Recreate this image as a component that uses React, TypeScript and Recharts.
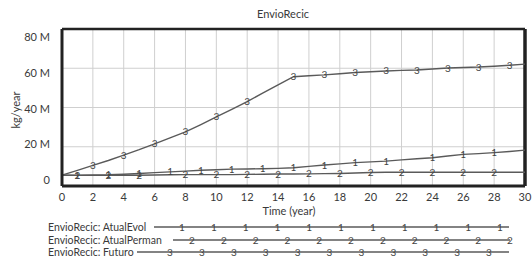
import React from 'react';
import { LineChart, Line, XAxis, YAxis, CartesianGrid, ReferenceLine } from 'recharts';

const years = [0,1,2,3,4,5,6,7,8,9,10,11,12,13,14,15,16,17,18,19,20,21,22,23,24,25,26,27,28,29,30];
const atualEvol = [5.5,5.5,5.6,5.7,6.0,6.4,6.8,7.2,7.6,8.0,8.3,8.6,8.7,8.8,9.0,9.3,10.0,10.7,11.3,11.9,12.3,12.7,13.3,13.9,14.4,15.3,16.1,16.5,17.0,17.6,18.3];
const atualPerman = [5.5,5.4,5.4,5.4,5.5,5.5,5.6,5.7,5.8,5.8,5.8,5.8,5.9,6.0,6.1,6.1,6.2,6.3,6.4,6.6,6.9,7.0,7.0,7.0,7.0,7.0,7.0,7.0,7.0,7.0,7.0];
const futuro = [5.5,8.0,10.5,13.0,15.7,18.5,21.5,24.5,27.6,31.3,35.2,39.0,43.0,47.3,51.5,55.7,56.2,56.6,57.2,57.8,58.2,58.6,58.9,59.1,59.6,60.1,60.4,60.6,61.0,61.5,62.1];

const markersEvol = [1,3,5,7,9,11,13,15,17,19,21,24,26,28];
const markersPerman = [1,3,5,8,10,12,14,16,18,20,22,24,26,28];
const markersFuturo = [2,4,6,8,10,12,15,17,19,21,23,25,27,29];

const xTicks = [0,2,4,6,8,10,12,14,16,18,20,22,24,26,28,30];
const yTicks = [0,20e6,40e6,60e6,80e6];

const seriesNames = ['EnvioRecic: AtualEvol', 'EnvioRecic: AtualPerman', 'EnvioRecic: Futuro'];
const seriesLabels = ['1', '2', '3'];

const data = years.map((t, i) => ({
  t,
  s1: atualEvol[i] * 1e6,
  s2: atualPerman[i] * 1e6,
  s3: futuro[i] * 1e6,
}));

const FONT = 'Lato, "DejaVu Sans", sans-serif';
const LINE = '#5a5a5a';
const TXT = '#3a3a3a';

const makeDot = (marks: number[], label: string) => (props: any) => {
  const { cx, cy, payload, index } = props;
  if (!marks.includes(payload.t)) return <g key={`d${label}${index}`} />;
  return (
    <text key={`d${label}${index}`} x={cx} y={cy} dy={3.5} textAnchor="middle" fontSize={10} fill="#444" fontFamily={FONT}>
      {label}
    </text>
  );
};

const fmtY = (v: number) => (v === 0 ? '0' : `${v / 1e6} M`);

const YTick = (props: any) => {
  const { y, payload } = props;
  const ly = 37 + (y - 29) * (143 / 157);
  return (
    <text x={50} y={ly} dy={4} textAnchor="end" fontSize={11} fill={TXT} fontFamily={FONT}>
      {fmtY(payload.value)}
    </text>
  );
};

const XTick = (props: any) => {
  const { x, payload } = props;
  return (
    <text x={x} y={197} dy={4} textAnchor="middle" fontSize={11} fill={TXT} fontFamily={FONT}>
      {payload.value}
    </text>
  );
};

const legendRows = [
  { y: 227, x0: 154, x1: 509, m0: 182, step: 31.8 },
  { y: 240, x0: 173, x1: 510, m0: 192, step: 31.8 },
  { y: 252, x0: 137, x1: 509, m0: 170, step: 31.9 },
];

const Legend = () => (
  <svg width={532} height={261} style={{ position: 'absolute', left: 0, top: 0, pointerEvents: 'none' }}>
    {legendRows.map((r, i) => {
      const marks: number[] = [];
      for (let m = r.m0; m <= r.x1 + 1; m += r.step) marks.push(m);
      return (
        <g key={i}>
          <text x={48} y={r.y} dy={4} fontSize={10.5} fill={TXT} fontFamily={FONT}>{seriesNames[i]}</text>
          <line x1={r.x0} x2={r.x1} y1={r.y} y2={r.y} stroke={LINE} strokeWidth={1.4} />
          {marks.map((m, j) => (
            <text key={j} x={m} y={r.y} dy={3.5} textAnchor="middle" fontSize={10} fill="#444" fontFamily={FONT}>{seriesLabels[i]}</text>
          ))}
        </g>
      );
    })}
    <text x={283} y={14} dy={4} textAnchor="middle" fontSize={11} fill={TXT} fontFamily={FONT}>EnvioRecic</text>
    <text x={289} y={211} dy={4} textAnchor="middle" fontSize={11} fill={TXT} fontFamily={FONT}>Time (year)</text>
    <text x={16} y={110} dy={4} textAnchor="middle" fontSize={11} fill={TXT} fontFamily={FONT} transform="rotate(-90 16 110)">kg/year</text>
  </svg>
);

export default function App() {
  return (
    <div style={{ position: 'absolute', left: 0, top: 0, width: 532, height: 261, background: '#fff' }}>
      <LineChart width={532} height={261} data={data} margin={{ top: 29, right: 7, left: 0, bottom: 0 }}>
        <CartesianGrid stroke="#cfcfcf" strokeWidth={1} />
        <XAxis
          dataKey="t"
          type="number"
          domain={[0, 30]}
          ticks={xTicks}
          tickLine={false}
          axisLine={{ stroke: '#222', strokeWidth: 3 }}
          tick={<XTick />}
          height={75}
          interval={0}
        />
        <YAxis
          type="number"
          domain={[0, 80e6]}
          ticks={yTicks}
          tickLine={false}
          axisLine={{ stroke: '#222', strokeWidth: 3 }}
          tick={<YTick />}
          width={62}
          interval={0}
        />
        <ReferenceLine y={80e6} stroke="#222" strokeWidth={2.5} />
        <ReferenceLine x={30} stroke="#222" strokeWidth={3.5} />
        <Line dataKey="s2" stroke={LINE} strokeWidth={1.4} dot={makeDot(markersPerman, '2')} isAnimationActive={false} />
        <Line dataKey="s1" stroke={LINE} strokeWidth={1.4} dot={makeDot(markersEvol, '1')} isAnimationActive={false} />
        <Line dataKey="s3" stroke={LINE} strokeWidth={1.4} dot={makeDot(markersFuturo, '3')} isAnimationActive={false} />
      </LineChart>
      <Legend />
    </div>
  );
}
